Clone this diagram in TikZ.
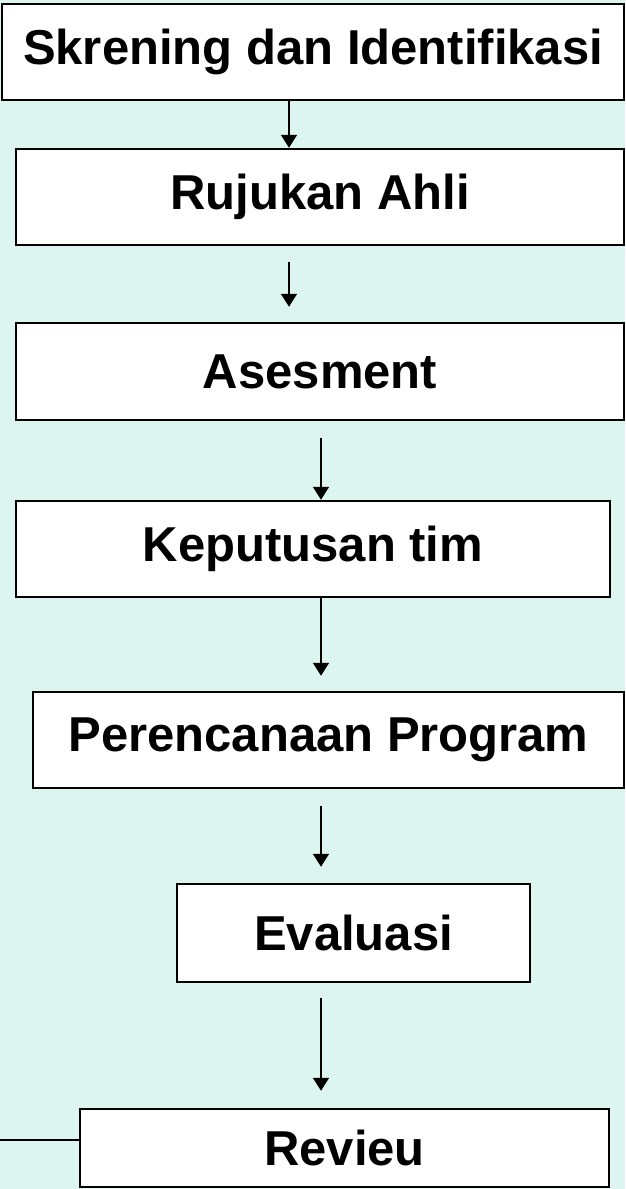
\documentclass[tikz,border=0pt]{standalone}
\usepackage{fontspec}
\setmainfont{Liberation Sans}
\usepackage{xcolor}
\usetikzlibrary{arrows.meta, positioning}

\definecolor{bgcyan}{RGB}{221,245,241}

\begin{document}
\begin{tikzpicture}[x=1pt, y=-1pt, thick,
    stage/.style={rectangle, draw=black, fill=white, line width=2.5pt, inner sep=0pt,
                  font=\fontsize{49}{56}\selectfont\bfseries},
    flow/.style={-{Triangle[width=16pt, length=13pt]}, line width=1.8pt}]
    % Background
    \useasboundingbox (0,0) rectangle (625,1189);
    \fill[bgcyan] (0,0) rectangle (625,1189);
    % Nodes
    \node (skrening) [stage, minimum width=622pt, minimum height=96pt] at (313,52) {Skrening dan Identifikasi};
    \node (rujukan) [stage, minimum width=608pt, minimum height=96pt] at (320,197) {Rujukan Ahli};
    \node (asesment) [stage, minimum width=608pt, minimum height=97pt] at (320,371.5) {Asesment};
    \node (keputusan) [stage, minimum width=594pt, minimum height=96pt] at (313,549) {Keputusan tim};
    \node (rencana) [stage, minimum width=591pt, minimum height=96pt] at (328.5,740) {Perencanaan Program};
    \node (evaluasi) [stage, minimum width=353pt, minimum height=98pt] at (353.5,933) {Evaluasi};
    \node (revieu) [stage, minimum width=529pt, minimum height=78pt] at (344.5,1148) {Revieu};
    % Guide coordinates
    \coordinate (laneA) at (289,0);
    \coordinate (laneB) at (321,0);
    \coordinate (edge) at (0,1140);
    % Arrows
    \draw[flow] (skrening.south -| laneA) -- (rujukan.north -| laneA);
    \draw[flow, shorten <=16pt, shorten >=15pt] (rujukan.south -| laneA) -- (asesment.north -| laneA);
    \draw[flow, shorten <=17pt] (asesment.south -| laneB) -- (keputusan.north -| laneB);
    \draw[flow, shorten >=15pt] (keputusan.south -| laneB) -- (rencana.north -| laneB);
    \draw[flow, shorten <=17pt, shorten >=16pt] (rencana.south -| laneB) -- (evaluasi.north -| laneB);
    \draw[flow, shorten <=15pt, shorten >=17pt] (evaluasi.south -| laneB) -- (revieu.north -| laneB);
    \draw[line width=1.8pt] (revieu.west |- edge) -- (edge);
\end{tikzpicture}
\end{document}
